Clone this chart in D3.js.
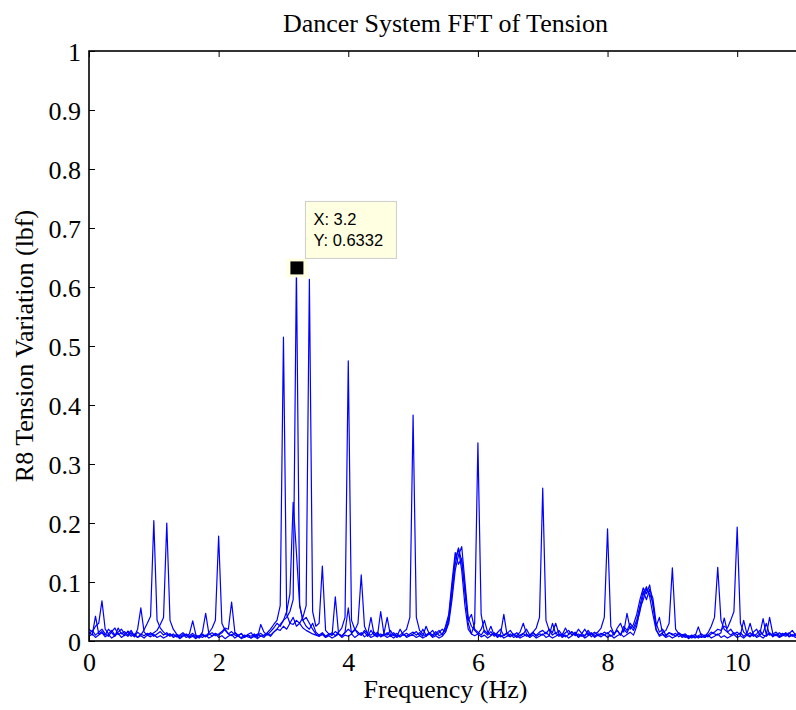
<!DOCTYPE html>
<html>
<head>
<meta charset="utf-8">
<script src="https://cdn.jsdelivr.net/npm/d3@7"></script>
<style>
  body { margin: 0; background: #fff; }
  svg { display: block; }
</style>
</head>
<body>
<div id="chart"></div>
<script>
// FFT bin spacing (Hz); bin i sits at i * binHz
const binHz = 0.05

// four test runs, one value per bin, 0 .. 11 Hz (rows of 1 Hz)
const runA = [
  0.012,0.018,0.010,0.015,0.020,0.012,0.008,0.016,0.022,0.011,0.014,0.009,0.017,0.012,0.007,0.015,0.010,0.019,0.030,0.042,
  0.204,0.035,0.022,0.015,0.010,0.012,0.008,0.011,0.006,0.009,0.012,0.007,0.010,0.006,0.009,0.012,0.008,0.014,0.022,0.035,
  0.178,0.030,0.018,0.012,0.009,0.014,0.008,0.006,0.010,0.007,0.005,0.009,0.012,0.008,0.010,0.014,0.020,0.028,0.035,0.060,
  0.515,0.045,0.030,0.040,0.025,0.030,0.022,0.018,0.015,0.012,0.010,0.008,0.012,0.007,0.010,0.014,0.009,0.015,0.022,0.040,
  0.475,0.035,0.020,0.012,0.010,0.015,0.008,0.018,0.010,0.007,0.012,0.009,0.014,0.008,0.011,0.006,0.010,0.015,0.020,0.040,
  0.383,0.040,0.018,0.012,0.008,0.014,0.010,0.016,0.009,0.012,0.020,0.040,0.090,0.140,0.156,0.120,0.060,0.020,0.012,0.030,
  0.336,0.045,0.015,0.010,0.016,0.008,0.012,0.007,0.010,0.014,0.008,0.011,0.006,0.010,0.013,0.008,0.010,0.015,0.022,0.040,
  0.259,0.035,0.018,0.010,0.014,0.008,0.012,0.007,0.011,0.015,0.009,0.012,0.008,0.010,0.014,0.007,0.012,0.015,0.022,0.040,
  0.190,0.025,0.012,0.018,0.010,0.020,0.014,0.025,0.018,0.030,0.050,0.078,0.092,0.075,0.045,0.018,0.010,0.014,0.018,0.030,
  0.124,0.020,0.012,0.008,0.010,0.006,0.009,0.005,0.008,0.006,0.010,0.007,0.012,0.015,0.020,0.018,0.025,0.022,0.035,0.050,
  0.193,0.030,0.015,0.010,0.014,0.008,0.012,0.018,0.010,0.008,0.013,0.009,0.012,0.007,0.010,0.014,0.008,0.011,0.009,0.012,
  0.010
]
const runB = [
  0.020,0.015,0.025,0.030,0.068,0.020,0.012,0.018,0.010,0.015,0.020,0.012,0.008,0.014,0.010,0.006,0.012,0.009,0.013,0.010,
  0.014,0.018,0.028,0.040,0.200,0.035,0.020,0.012,0.008,0.011,0.006,0.009,0.013,0.008,0.005,0.010,0.007,0.011,0.014,0.009,
  0.012,0.016,0.022,0.020,0.066,0.015,0.010,0.012,0.007,0.010,0.008,0.012,0.006,0.028,0.015,0.010,0.016,0.022,0.030,0.025,
  0.035,0.040,0.050,0.070,0.6332,0.060,0.035,0.025,0.020,0.030,0.015,0.010,0.014,0.008,0.012,0.010,0.016,0.012,0.009,0.014,
  0.020,0.015,0.018,0.030,0.112,0.025,0.012,0.010,0.015,0.008,0.050,0.012,0.010,0.018,0.009,0.013,0.007,0.011,0.008,0.012,
  0.015,0.010,0.014,0.008,0.025,0.012,0.018,0.010,0.014,0.020,0.015,0.030,0.070,0.120,0.145,0.160,0.100,0.040,0.025,0.018,
  0.012,0.020,0.035,0.015,0.010,0.014,0.008,0.012,0.045,0.010,0.007,0.012,0.009,0.015,0.030,0.012,0.008,0.013,0.010,0.015,
  0.018,0.012,0.020,0.014,0.030,0.012,0.008,0.014,0.018,0.010,0.015,0.008,0.012,0.020,0.010,0.014,0.008,0.012,0.010,0.015,
  0.012,0.018,0.010,0.022,0.030,0.015,0.047,0.020,0.028,0.045,0.070,0.090,0.080,0.095,0.060,0.025,0.040,0.012,0.008,0.014,
  0.010,0.013,0.007,0.011,0.006,0.009,0.005,0.008,0.024,0.008,0.006,0.010,0.015,0.012,0.010,0.014,0.039,0.015,0.020,0.012,
  0.015,0.010,0.035,0.012,0.030,0.010,0.008,0.012,0.038,0.010,0.040,0.012,0.009,0.014,0.010,0.008,0.012,0.018,0.010,0.008,
  0.012
]
const runC = [
  0.015,0.010,0.042,0.012,0.016,0.010,0.020,0.014,0.008,0.022,0.012,0.016,0.010,0.018,0.008,0.020,0.056,0.015,0.010,0.014,
  0.008,0.012,0.016,0.010,0.014,0.008,0.012,0.007,0.010,0.014,0.009,0.012,0.034,0.010,0.007,0.015,0.047,0.012,0.009,0.013,
  0.010,0.014,0.020,0.012,0.016,0.010,0.008,0.013,0.006,0.011,0.014,0.007,0.010,0.013,0.008,0.012,0.010,0.015,0.020,0.018,
  0.025,0.020,0.030,0.028,0.035,0.030,0.040,0.060,0.613,0.050,0.025,0.030,0.127,0.018,0.012,0.010,0.075,0.012,0.008,0.015,
  0.056,0.012,0.020,0.015,0.010,0.018,0.012,0.040,0.010,0.015,0.008,0.012,0.040,0.010,0.014,0.008,0.020,0.010,0.013,0.009,
  0.012,0.016,0.009,0.020,0.010,0.014,0.008,0.012,0.018,0.010,0.025,0.045,0.100,0.150,0.130,0.140,0.080,0.035,0.045,0.020,
  0.015,0.010,0.018,0.012,0.025,0.010,0.014,0.020,0.009,0.013,0.018,0.010,0.014,0.008,0.012,0.020,0.010,0.015,0.008,0.012,
  0.010,0.015,0.009,0.030,0.012,0.018,0.010,0.022,0.012,0.016,0.010,0.020,0.013,0.008,0.018,0.011,0.015,0.009,0.013,0.010,
  0.014,0.008,0.012,0.018,0.010,0.025,0.018,0.030,0.022,0.035,0.060,0.085,0.070,0.088,0.072,0.030,0.015,0.020,0.010,0.014,
  0.012,0.008,0.014,0.010,0.012,0.007,0.010,0.006,0.009,0.012,0.008,0.014,0.025,0.040,0.125,0.035,0.020,0.015,0.010,0.014,
  0.010,0.014,0.008,0.012,0.009,0.015,0.020,0.010,0.014,0.030,0.010,0.012,0.015,0.009,0.013,0.010,0.014,0.008,0.012,0.015,
  0.009
]
const runD = [
  0.008,0.012,0.006,0.010,0.014,0.007,0.011,0.005,0.009,0.013,0.006,0.010,0.015,0.008,0.012,0.006,0.009,0.005,0.010,0.007,
  0.011,0.006,0.009,0.005,0.008,0.012,0.006,0.009,0.004,0.008,0.011,0.005,0.008,0.004,0.009,0.006,0.010,0.005,0.008,0.012,
  0.006,0.009,0.004,0.008,0.011,0.005,0.009,0.004,0.007,0.010,0.005,0.008,0.004,0.009,0.006,0.012,0.008,0.015,0.020,0.028,
  0.035,0.050,0.080,0.235,0.150,0.060,0.035,0.040,0.030,0.020,0.012,0.008,0.011,0.006,0.009,0.005,0.008,0.012,0.006,0.010,
  0.008,0.012,0.006,0.010,0.014,0.007,0.011,0.006,0.009,0.013,0.007,0.010,0.006,0.009,0.005,0.010,0.007,0.012,0.006,0.009,
  0.010,0.006,0.009,0.005,0.008,0.012,0.006,0.009,0.005,0.008,0.015,0.035,0.080,0.130,0.158,0.135,0.090,0.030,0.012,0.009,
  0.012,0.007,0.010,0.005,0.009,0.013,0.006,0.010,0.005,0.008,0.012,0.006,0.009,0.005,0.008,0.011,0.006,0.010,0.005,0.008,
  0.012,0.006,0.009,0.005,0.008,0.012,0.006,0.010,0.005,0.009,0.013,0.006,0.010,0.005,0.009,0.012,0.006,0.010,0.007,0.011,
  0.006,0.010,0.005,0.009,0.012,0.007,0.011,0.015,0.010,0.025,0.055,0.070,0.088,0.080,0.065,0.020,0.008,0.011,0.006,0.009,
  0.005,0.008,0.012,0.006,0.009,0.004,0.008,0.011,0.005,0.009,0.006,0.010,0.005,0.008,0.012,0.006,0.009,0.005,0.008,0.011,
  0.006,0.009,0.005,0.010,0.007,0.012,0.006,0.009,0.005,0.010,0.014,0.007,0.011,0.006,0.009,0.013,0.007,0.010,0.006,0.009,
  0.007
]
const runs = [runD, runC, runB, runA]

const xTicks = [0, 2, 4, 6, 8, 10]
const yTicks = [0, 0.1, 0.2, 0.3, 0.4, 0.5, 0.6, 0.7, 0.8, 0.9, 1]
const tip = {x: 3.2, y: 0.6332}

const W = 796, H = 710
const margin = {top: 51, left: 89}
const plotW = 713, plotH = 590
const serif = '"Liberation Serif", "Times New Roman", serif'

const svg = d3.select('#chart').append('svg')
    .attr('width', W)
    .attr('height', H)
    .style('background', '#fff')

const g = svg.append('g')
    .attr('transform', `translate(${margin.left},${margin.top})`)

const x = d3.scaleLinear().domain([0, 11]).range([0, plotW])
const y = d3.scaleLinear().domain([0, 1]).range([plotH, 0])

g.append('clipPath').attr('id', 'plotclip')
    .append('rect').attr('width', plotW).attr('height', plotH)

// spectra
const line = d3.line()
    .x((d, i) => x(i * binHz))
    .y(d => y(d))

g.append('g')
    .attr('clip-path', 'url(#plotclip)')
    .selectAll('path')
    .data(runs)
    .enter()
    .append('path')
    .attr('d', d => line(d))
    .attr('fill', 'none')
    .attr('stroke', '#0000ff')
    .attr('stroke-width', 1.2)
    .attr('stroke-linejoin', 'round')

// axes, ticks pointing inward
const styleAxis = sel => {
    sel.select('.domain').remove()
    sel.selectAll('line').attr('stroke', '#000').attr('stroke-width', 1)
    sel.selectAll('text')
        .attr('fill', '#000')
        .style('font-family', serif)
        .style('font-size', '26px')
}

g.append('g')
    .attr('transform', `translate(0,${plotH})`)
    .call(d3.axisBottom(x).tickValues(xTicks).tickSize(-6).tickFormat(d3.format('d')))
    .call(styleAxis)
    .call(a => a.selectAll('text').attr('y', 30).attr('dy', null))

g.append('g')
    .call(d3.axisTop(x).tickValues(xTicks).tickSize(-6).tickFormat(''))
    .call(styleAxis)

g.append('g')
    .call(d3.axisLeft(y).tickValues(yTicks).tickSize(-6).tickFormat(d => d === 0 || d === 1 ? d : d3.format('.1f')(d)))
    .call(styleAxis)
    .call(a => a.selectAll('text').attr('x', -8).attr('dy', '0.35em'))

g.append('g')
    .attr('transform', `translate(${plotW},0)`)
    .call(d3.axisRight(y).tickValues(yTicks).tickSize(-6).tickFormat(''))
    .call(styleAxis)

g.append('rect')
    .attr('width', plotW)
    .attr('height', plotH)
    .attr('fill', 'none')
    .attr('stroke', '#000')
    .attr('stroke-width', 1.6)

// data tip
const tx = x(tip.x), ty = y(tip.y)
g.append('rect')
    .attr('x', tx - 10).attr('y', ty - 9)
    .attr('width', 21).attr('height', 19)
    .attr('fill', '#ffffe1')
g.append('rect')
    .attr('x', tx - 6).attr('y', ty - 6)
    .attr('width', 13).attr('height', 13)
    .attr('fill', '#000')

const box = g.append('g').attr('transform', `translate(${tx + 9},${ty - 66})`)
box.append('rect')
    .attr('width', 91).attr('height', 57)
    .attr('fill', '#ffffe1')
    .attr('stroke', '#cccccc')
    .attr('stroke-width', 1)
box.selectAll('text')
    .data([`X: ${tip.x}`, `Y: ${tip.y}`])
    .enter()
    .append('text')
    .attr('x', 8)
    .attr('y', (d, i) => 24 + i * 21)
    .style('font-family', '"Liberation Sans", Arial, sans-serif')
    .style('font-size', '16.5px')
    .attr('fill', '#000')
    .text(d => d)

// labels
svg.append('text')
    .attr('x', margin.left + plotW / 2)
    .attr('y', 32)
    .attr('text-anchor', 'middle')
    .style('font-family', serif)
    .style('font-size', '26px')
    .text('Dancer System FFT of Tension')

svg.append('text')
    .attr('x', margin.left + plotW / 2)
    .attr('y', 698)
    .attr('text-anchor', 'middle')
    .style('font-family', serif)
    .style('font-size', '26px')
    .text('Frequency (Hz)')

svg.append('text')
    .attr('transform', `translate(33,${margin.top + plotH / 2}) rotate(-90)`)
    .attr('text-anchor', 'middle')
    .style('font-family', serif)
    .style('font-size', '26px')
    .text('R8 Tension Variation (lbf)')
</script>
</body>
</html>
